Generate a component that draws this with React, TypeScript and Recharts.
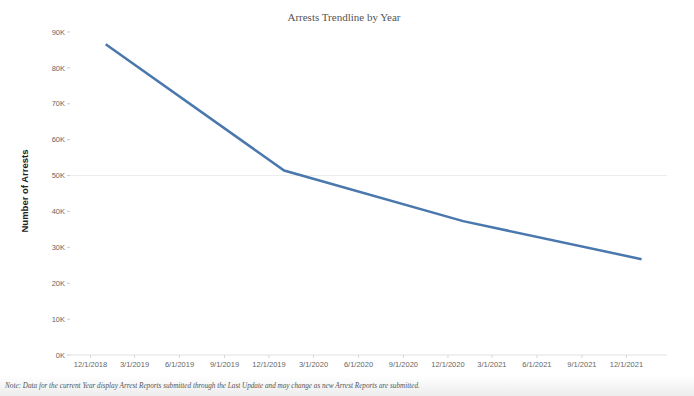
import { LineChart, Line, XAxis, YAxis, ReferenceLine } from "recharts";

// one point per year, plotted at Jan 1 of the following year
const pointDates = ["2019-01-01", "2020-01-01", "2021-01-01", "2022-01-01"];
const arrests = [86600, 51400, 37300, 26700];

const xTickDates = [
  "2018-12-01", "2019-03-01", "2019-06-01", "2019-09-01",
  "2019-12-01", "2020-03-01", "2020-06-01", "2020-09-01",
  "2020-12-01", "2021-03-01", "2021-06-01", "2021-09-01",
  "2021-12-01",
];
const yTicks = [0, 10000, 20000, 30000, 40000, 50000, 60000, 70000, 80000, 90000];
const xDomain = ["2018-10-20", "2022-02-22"];

const toTime = (d: string) => new Date(d + "T00:00:00Z").getTime();

const data = pointDates.map((d, i) => ({ t: toTime(d), arrests: arrests[i] }));

const fmtDate = (v: number) => {
  const d = new Date(v);
  return `${d.getUTCMonth() + 1}/${d.getUTCDate()}/${d.getUTCFullYear()}`;
};
const fmtK = (v: number) => `${v / 1000}K`;

const tickStyle = { fontSize: 7.5, fill: "#666", fontFamily: "Liberation Sans, Arial, sans-serif" };

export default function App() {
  return (
    <div
      style={{
        position: "absolute",
        left: 0,
        top: 0,
        width: 694,
        height: 396,
        background: "linear-gradient(to bottom, #fff 0px, #fff 376px, #ececec 396px)",
        overflow: "hidden",
      }}
    >
      <div
        style={{
          position: "absolute",
          top: 11,
          left: 0,
          width: 688,
          textAlign: "center",
          fontFamily: "Liberation Serif, Times New Roman, serif",
          fontSize: 11,
          color: "#555",
        }}
      >
        Arrests Trendline by Year
      </div>
      <div
        style={{
          position: "absolute",
          left: 24,
          top: 191,
          transform: "translate(-50%, -50%) rotate(-90deg)",
          whiteSpace: "nowrap",
          fontFamily: "Liberation Sans, Arial, sans-serif",
          fontWeight: "bold",
          fontSize: 9.5,
          color: "#222",
        }}
      >
        Number of Arrests
      </div>
      <LineChart
        width={694}
        height={396}
        data={data}
        margin={{ top: 32, right: 27, bottom: 0, left: 0 }}
      >
        <ReferenceLine y={50000} stroke="#ececec" strokeWidth={1} />
        <XAxis
          dataKey="t"
          type="number"
          scale="time"
          domain={xDomain.map(toTime)}
          ticks={xTickDates.map(toTime)}
          tickFormatter={fmtDate}
          tick={tickStyle}
          axisLine={{ stroke: "#e2e2e2" }}
          tickLine={{ stroke: "#d8d8d8" }}
          tickSize={3}
          tickMargin={4}
          height={41}
          interval={0}
        />
        <YAxis
          type="number"
          domain={[0, 90000]}
          ticks={yTicks}
          tickFormatter={fmtK}
          tick={tickStyle}
          axisLine={false}
          tickLine={{ stroke: "#ccc" }}
          tickSize={3}
          tickMargin={2}
          width={70}
        />
        <Line
          type="linear"
          dataKey="arrests"
          stroke="#4a78ad"
          strokeWidth={2.5}
          dot={false}
          activeDot={false}
          isAnimationActive={false}
        />
      </LineChart>
      <div
        style={{
          position: "absolute",
          left: 5,
          top: 382,
          whiteSpace: "nowrap",
          fontFamily: "Liberation Serif, Times New Roman, serif",
          fontStyle: "italic",
          fontSize: 7.2,
          color: "#555",
        }}
      >
        Note: Data for the current Year display Arrest Reports submitted through the Last Update and may change as new Arrest Reports are submitted.
      </div>
    </div>
  );
}
